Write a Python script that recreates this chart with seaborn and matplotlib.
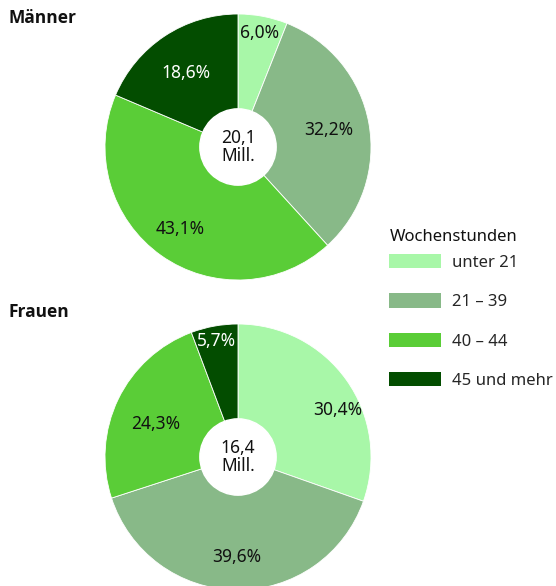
import numpy as np
import matplotlib
matplotlib.use("Agg")
import matplotlib.pyplot as plt
import seaborn as sns
from matplotlib.patches import Patch, Circle

sns.set_theme(style="white")
plt.rcParams['font.family'] = ['Noto Sans', 'DejaVu Sans']

categories = ["unter 21", "21 – 39", "40 – 44", "45 und mehr"]
maenner = [6.0, 32.2, 43.1, 18.6]
frauen = [30.4, 39.6, 24.3, 5.7]
totals = ["20,1\nMill.", "16,4\nMill."]
titles = ["Männer", "Frauen"]
legend_title = "Wochenstunden"

colors = ["#a8f7a8", "#88b988", "#5acd37", "#034d00"]
text_colors = ["#111111", "#111111", "#111111", "white"]

# label radial placement (style)
label_r = [[0.87, 0.69, 0.75, 0.68], [0.83, 0.75, 0.67, 0.89]]
label_dang = [[0, 0, 0, -1], [10, 0, -4, 0]]

W, H = 556, 586
fig = plt.figure(figsize=(W / 100, H / 100), dpi=100)

def add_pie(cy, values, total, lr, dang):
    r = 133
    cx = 238
    ax = fig.add_axes([(cx - r) / W, 1 - (cy + r) / H, 2 * r / W, 2 * r / H])
    ax.pie(values, colors=colors, startangle=90, counterclock=False, radius=1,
           wedgeprops=dict(edgecolor="white", linewidth=0.6))
    ax.add_patch(Circle((0, 0), 0.287, color="white", zorder=5))
    ax.text(0, 0, total, ha="center", va="center", fontsize=12.5, color="#111111",
            zorder=6, linespacing=1.05)
    start = 0.0
    for v, c, rr, da in zip(values, text_colors, lr, dang):
        mid = start + v / 2 * 3.6 + da
        start += v * 3.6
        a = np.deg2rad(mid)
        x, y = rr * np.sin(a), rr * np.cos(a)
        ax.text(x, y, f"{v:.1f}%".replace(".", ","), ha="center", va="center",
                fontsize=12.5, color=c, zorder=6)
    ax.set_xlim(-1, 1)
    ax.set_ylim(-1, 1)
    ax.set_aspect("equal")
    ax.axis("off")
    return ax

add_pie(147, maenner, totals[0], label_r[0], label_dang[0])
add_pie(457, frauen, totals[1], label_r[1], label_dang[1])

for t, y in zip(titles, [18, 312]):
    fig.text(8 / W, 1 - y / H, t, fontsize=12.5, fontweight="bold", va="center", ha="left",
             color="#111111", family=["Open Sans", "DejaVu Sans"])

fig.text(390 / W, 1 - 237 / H, legend_title, fontsize=12, va="center", ha="left", color="#111111")

handles = [Patch(facecolor=c, edgecolor="none") for c in colors]
leg = fig.legend(handles, categories, loc="upper left",
                 bbox_to_anchor=(389 / W, 1 - 254 / H), frameon=False,
                 fontsize=12, handlelength=3.1, handleheight=0.96,
                 labelspacing=1.34, handletextpad=0.7, borderpad=0, borderaxespad=0)

fig.savefig("out.png", dpi=100)
